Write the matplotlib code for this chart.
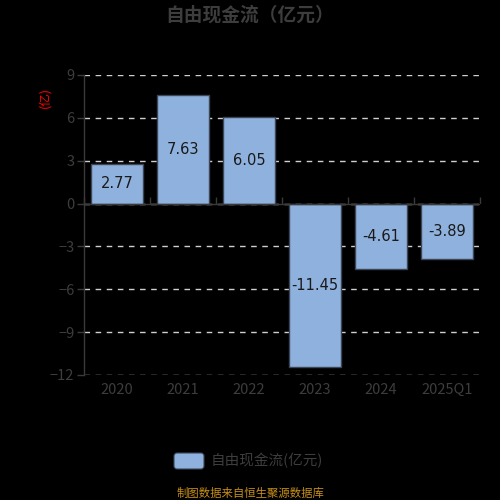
import numpy as np
import matplotlib.pyplot as plt
from matplotlib.patches import FancyBboxPatch

plt.rcParams['font.family'] = ['Noto Sans CJK SC', 'DejaVu Sans']

# data
years = ['2020', '2021', '2022', '2023', '2024', '2025Q1']
fcf = [2.77, 7.63, 6.05, -11.45, -4.61, -3.89]
yticks = [9, 6, 3, 0, -3, -6, -9, -12]

bar_color = '#8fb1dd'
edge_color = '#3c4656'
axis_color = '#3a3a3a'
text_gray = '#3d3d3d'

fig = plt.figure(figsize=(5, 5), dpi=100, facecolor='black')
ax = fig.add_axes([0.168, 0.25, 0.792, 0.6], facecolor='black')

x = np.arange(len(years))
ax.set_xlim(-0.5, len(years) - 0.5)
ax.set_ylim(-12, 9)

for yv in yticks:
    ax.axhline(yv, color='#d0d0d0', lw=1.0, ls=(0, (4, 4)), zorder=1)

bars = ax.bar(x, fcf, width=0.8, color=bar_color, edgecolor=edge_color,
              lw=1.0, zorder=2)
for xi, v in zip(x, fcf):
    ax.text(xi, v / 2, '%.2f' % v, ha='center', va='center',
            fontsize=10.5, color='#1a1a1a', zorder=3, family='DejaVu Sans')

# axes styling
for s in ['top', 'right', 'bottom']:
    ax.spines[s].set_visible(False)
ax.spines['left'].set_color(axis_color)
ax.spines['left'].set_linewidth(1.0)
ax.set_yticks(yticks)
ax.tick_params(axis='y', colors=axis_color, labelcolor=text_gray,
               labelsize=10.5, length=5, width=1.0, pad=2)
ax.set_xticks(x)
ax.set_xticklabels(years)
ax.tick_params(axis='x', length=0, labelcolor=text_gray, labelsize=10.5, pad=6)

# zero line with ticks at category boundaries
ax.axhline(0, color=axis_color, lw=1.0, zorder=2.5)
zero_pos = 12 / 21
sec = ax.secondary_xaxis(zero_pos)
sec.set_xticks(np.arange(len(years) + 1) - 0.5)
sec.set_xticklabels([])
sec.spines['bottom'].set_visible(False)
sec.tick_params(axis='x', direction='out', length=5, width=1.0,
                colors=axis_color)

# y unit label
fig.text(0.09, 0.806, '(亿)', rotation=90, color='#ff0000', fontsize=9,
         ha='center', va='center')

# title
fig.text(0.5, 0.97, '自由现金流（亿元）', ha='center', va='center',
         fontsize=13.5, fontweight='bold', color=text_gray)

# legend
patch = FancyBboxPatch((0.35, 0.064), 0.056, 0.028,
                       boxstyle='round,pad=0.002,rounding_size=0.006',
                       transform=fig.transFigure, facecolor=bar_color,
                       edgecolor=edge_color, lw=0.8)
fig.patches.append(patch)
fig.text(0.422, 0.079, '自由现金流(亿元)', ha='left', va='center',
         fontsize=10.5, color=text_gray)

# source note
fig.text(0.5, 0.014, '制图数据来自恒生聚源数据库', ha='center', va='center',
         fontsize=8.2, color='#c8901a')

plt.savefig('out.png', dpi=100, facecolor='black')
